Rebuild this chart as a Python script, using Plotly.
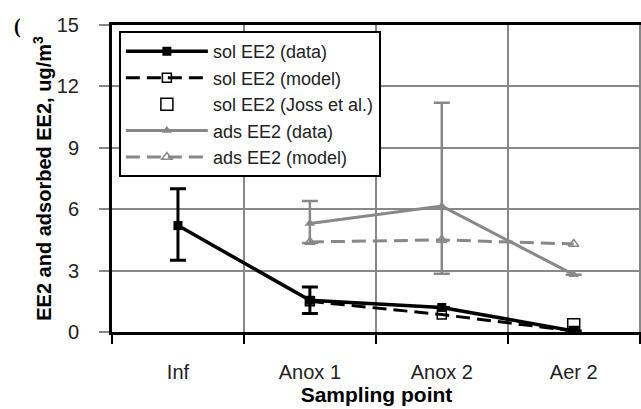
import plotly.graph_objects as go

categories = ["Inf", "Anox 1", "Anox 2", "Aer 2"]

sol_data = [5.2, 1.55, 1.2, 0.05]
sol_data_err_plus = [1.8, 0.65, 0.0, 0.0]
sol_data_err_minus = [1.7, 0.65, 0.0, 0.0]

sol_model_x = ["Anox 1", "Anox 2", "Aer 2"]
sol_model = [1.5, 0.85, 0.05]

joss_x = ["Aer 2"]
joss = [0.35]

ads_x = ["Anox 1", "Anox 2", "Aer 2"]
ads_data = [5.3, 6.15, 2.8]
ads_err_plus = [1.1, 5.05, 0.0]
ads_err_minus = [0.95, 3.3, 0.0]

ads_model_x = ["Anox 1", "Anox 2", "Aer 2"]
ads_model = [4.4, 4.5, 4.3]

y_ticks = [0, 3, 6, 9, 12, 15]

BLACK = "#000000"
GRAY = "#888888"

fig = go.Figure()

fig.add_trace(go.Scatter(
    x=categories, y=sol_data, name="sol EE2 (data)", mode="lines+markers",
    line=dict(color=BLACK, width=3.5),
    marker=dict(symbol="square", size=9, color=BLACK),
    error_y=dict(type="data", symmetric=False, array=sol_data_err_plus,
                 arrayminus=sol_data_err_minus, color=BLACK, thickness=3, width=8),
))
fig.add_trace(go.Scatter(
    x=sol_model_x, y=sol_model, name="sol EE2 (model)", mode="lines+markers",
    line=dict(color=BLACK, width=3, dash="14px,7px"),
    marker=dict(symbol="square-open", size=9, color=BLACK, line=dict(width=1.5)),
))
fig.add_trace(go.Scatter(
    x=joss_x, y=joss, name="sol EE2 (Joss et al.)", mode="markers",
    marker=dict(symbol="square-open", size=12, color=BLACK, line=dict(width=1.5)),
))
fig.add_trace(go.Scatter(
    x=ads_x, y=ads_data, name="ads EE2 (data)", mode="lines+markers",
    line=dict(color=GRAY, width=3),
    marker=dict(symbol="triangle-up", size=9, color=GRAY),
    error_y=dict(type="data", symmetric=False, array=ads_err_plus,
                 arrayminus=ads_err_minus, color=GRAY, thickness=2.5, width=8),
))
fig.add_trace(go.Scatter(
    x=ads_model_x, y=ads_model, name="ads EE2 (model)", mode="lines+markers",
    line=dict(color=GRAY, width=3, dash="14px,7px"),
    marker=dict(symbol="triangle-up-open", size=9, color=GRAY, line=dict(width=1.5)),
))

fig.update_layout(
    width=641, height=409,
    margin=dict(l=112, r=0, t=25, b=77),
    paper_bgcolor="white", plot_bgcolor="white",
    font=dict(family="Liberation Sans, Arial, sans-serif", color="#222222"),
    legend=dict(
        x=0.013, y=0.98, xanchor="left", yanchor="top",
        bgcolor="white", bordercolor=BLACK, borderwidth=2,
        font=dict(size=18, color="#222222"),
        itemwidth=82, tracegroupgap=0,
    ),
    showlegend=True,
)

fig.update_xaxes(
    type="category", categoryorder="array", categoryarray=categories,
    range=[-0.5, 3.51],
    tickson="boundaries", ticks="outside", ticklen=9, tickcolor=BLACK, tickwidth=1.5,
    showgrid=True, gridcolor=GRAY, gridwidth=1.5,
    showline=True, linecolor=BLACK, linewidth=3, mirror=True,
    tickfont=dict(size=20, color="#222222"),
    ticklabelstandoff=20,
    title=dict(text="<b>Sampling point</b>", font=dict(size=21, color=BLACK), standoff=6),
)

fig.update_yaxes(
    range=[0, 15], tickvals=y_ticks,
    ticks="outside", ticklen=10, tickcolor=GRAY, tickwidth=1.5,
    showgrid=True, gridcolor=GRAY, gridwidth=1.5, zeroline=False,
    showline=True, linecolor=BLACK, linewidth=3,
    tickfont=dict(size=20, color="#222222"),
    ticklabelstandoff=16,
    title=dict(text="<b>EE2 and adsorbed EE2, ug/m<sup>3</sup></b>",
               font=dict(size=20, color=BLACK), standoff=0),
)

fig.add_annotation(
    text="<b>(</b>", xref="paper", yref="paper", x=-0.1777, y=0.9935,
    xanchor="center", yanchor="middle",
    showarrow=False, font=dict(family="Liberation Serif, serif", size=20, color=BLACK),
)

fig.write_html("out.html")
